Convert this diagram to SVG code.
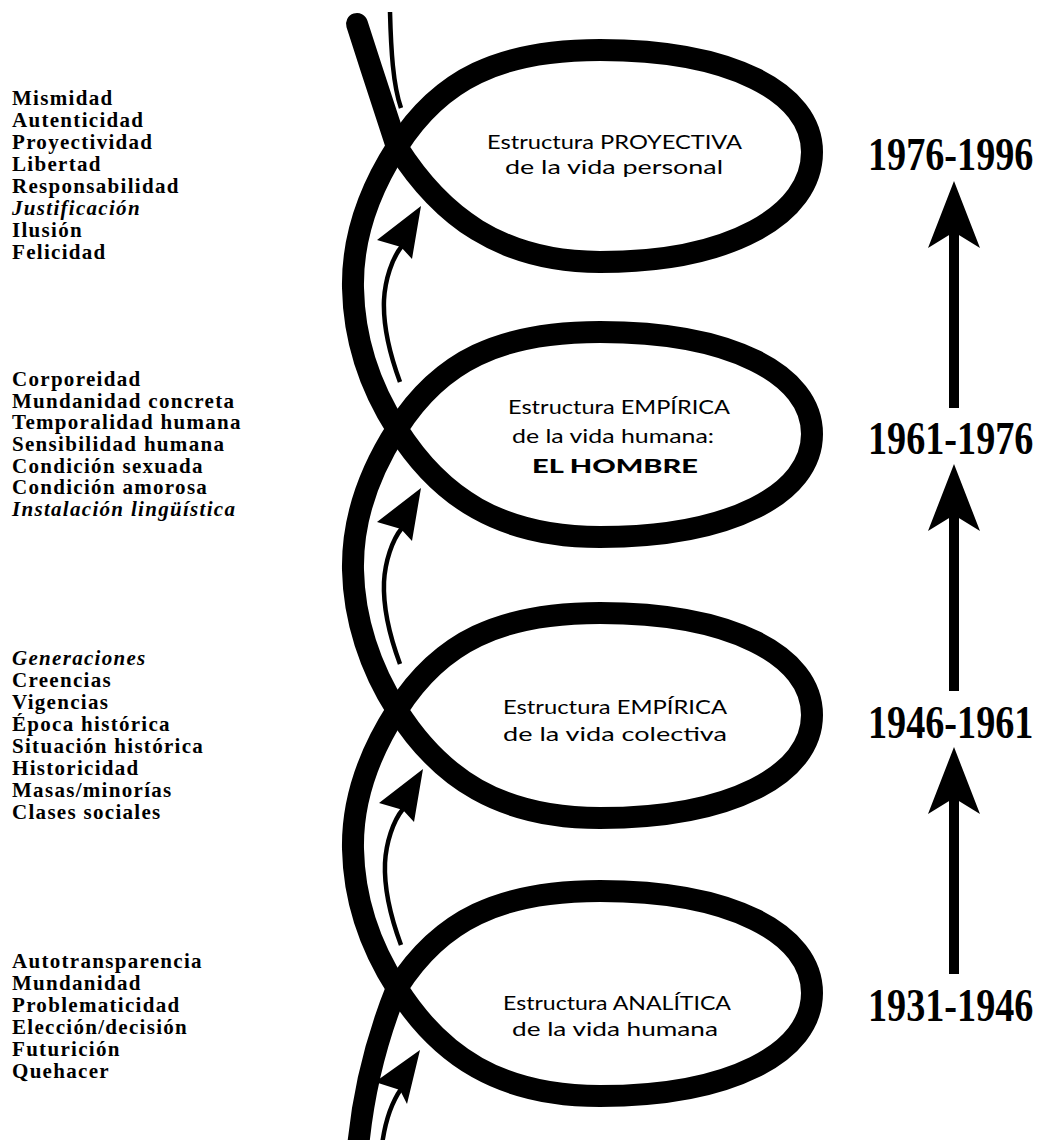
<svg xmlns="http://www.w3.org/2000/svg" width="1041" height="1140" viewBox="0 0 1041 1140">
<style>
.thick{fill:none;stroke:#000;stroke-width:22}
.thin{fill:none;stroke:#000;stroke-width:4.5}
.head{fill:#000}
.lst{font-family:"Liberation Serif",serif;font-weight:bold;font-size:21px;letter-spacing:1.3px;fill:#000}
.it{font-style:italic}
.lbl{font-family:"Lato","Noto Sans",sans-serif;font-size:20px;fill:#000}
.big{font-family:"Lato","Noto Sans",sans-serif;font-weight:900;font-size:19px;fill:#000}
.yr{font-family:"Liberation Serif",serif;font-weight:bold;font-size:46px;fill:#000}
</style>
<rect width="1041" height="1140" fill="#fff"/>

<g id="connectors">
  <path class="thick" stroke-linecap="round" d="M357,24 C370,65 384,107 397,147"/>
  <path class="thick" d="M397,147 C370,189 352,238 353,288 C354,338 370,387 397,429"/>
  <path class="thick" d="M397,429 C370,471 352,520 353,570 C354,619 370,668 397,710"/>
  <path class="thick" d="M397,710 C370,752 352,800 353,849 C354,898 370,946 397,988"/>
  <path class="thick" d="M397,988 C380,1030 362,1090 357,1160"/>
  <path class="thin" d="M390,12 C391,50 393,85 401,108"/>
  <path class="thin" d="M400,382 C390,355 383,325 384,300 C385,280 392,258 402,246"/>
  <polygon class="head" points="421,206 377,240 401,247 412,259"/>
  <path class="thin" d="M400,664 C390,637 383,607 384,582 C385,562 392,540 402,528"/>
  <polygon class="head" points="421,488 377,522 401,529 412,541"/>
  <path class="thin" d="M401,945 C391,918 384,888 385,863 C386,843 393,821 403,809"/>
  <polygon class="head" points="423,769 379,803 403,810 414,822"/>
  <path class="thin" d="M401,1089 C392,1102 385,1122 382,1145"/>
  <polygon class="head" points="420,1050 375,1082 400,1090 407,1104"/>
  <g id="timeline">
    <rect x="949" y="228" width="10" height="180"/>
    <polygon class="head" points="954,181 928,248 954,232 980,248"/>
    <rect x="949" y="511" width="10" height="180"/>
    <polygon class="head" points="954,464 928,531 954,515 980,531"/>
    <rect x="949" y="794" width="10" height="180"/>
    <polygon class="head" points="954,747 928,814 954,798 980,814"/>
  </g>
</g>

<g id="loop-proyectiva">
  <path class="thick" d="M397,147 C440,215 500,262 600,262 C730,262 812,215 812,152 C812,92 730,50 600,50 C500,50 440,79 397,147"/>
  <text class="lbl" x="487" y="149" textLength="255" lengthAdjust="spacingAndGlyphs">Estructura PROYECTIVA</text>
  <text class="lbl" x="505" y="174" textLength="218" lengthAdjust="spacingAndGlyphs">de la vida personal</text>
</g>
<g id="loop-empirica-humana">
  <path class="thick" d="M397,429 C440,497 500,537 600,537 C730,537 812,494 812,434 C812,374 730,332 600,332 C500,332 440,361 397,429"/>
  <text class="lbl" x="508" y="414" textLength="222" lengthAdjust="spacingAndGlyphs">Estructura EMPÍRICA</text>
  <text class="lbl" x="512" y="443" textLength="202" lengthAdjust="spacingAndGlyphs">de la vida humana:</text>
  <text class="big" x="532" y="473" textLength="166" lengthAdjust="spacingAndGlyphs">EL HOMBRE</text>
</g>
<g id="loop-empirica-colectiva">
  <path class="thick" d="M397,710 C440,778 500,818 600,818 C730,818 812,775 812,715 C812,655 730,613 600,613 C500,613 440,642 397,710"/>
  <text class="lbl" x="503" y="714" textLength="224" lengthAdjust="spacingAndGlyphs">Estructura EMPÍRICA</text>
  <text class="lbl" x="503" y="741" textLength="224" lengthAdjust="spacingAndGlyphs">de la vida colectiva</text>
</g>
<g id="loop-analitica">
  <path class="thick" d="M397,988 C440,1056 500,1096 600,1096 C730,1096 812,1053 812,993 C812,933 730,891 600,891 C500,891 440,920 397,988"/>
  <text class="lbl" x="503" y="1010" textLength="228" lengthAdjust="spacingAndGlyphs">Estructura ANALÍTICA</text>
  <text class="lbl" x="512" y="1036" textLength="206" lengthAdjust="spacingAndGlyphs">de la vida humana</text>
</g>

<g id="list-proyectiva" class="lst">
  <text x="12" y="105">Mismidad</text>
  <text x="12" y="127">Autenticidad</text>
  <text x="12" y="149">Proyectividad</text>
  <text x="12" y="171">Libertad</text>
  <text x="12" y="193">Responsabilidad</text>
  <text x="12" y="215" class="it">Justificación</text>
  <text x="12" y="237">Ilusión</text>
  <text x="12" y="259">Felicidad</text>
</g>
<g id="list-hombre" class="lst">
  <text x="12" y="386">Corporeidad</text>
  <text x="12" y="407.7">Mundanidad concreta</text>
  <text x="12" y="429.4">Temporalidad humana</text>
  <text x="12" y="451">Sensibilidad humana</text>
  <text x="12" y="472.7">Condición sexuada</text>
  <text x="12" y="494.4">Condición amorosa</text>
  <text x="12" y="516" class="it">Instalación lingüística</text>
</g>
<g id="list-colectiva" class="lst">
  <text x="12" y="665" class="it">Generaciones</text>
  <text x="12" y="687">Creencias</text>
  <text x="12" y="709">Vigencias</text>
  <text x="12" y="731">Época histórica</text>
  <text x="12" y="753">Situación histórica</text>
  <text x="12" y="775">Historicidad</text>
  <text x="12" y="797">Masas/minorías</text>
  <text x="12" y="819">Clases sociales</text>
</g>
<g id="list-analitica" class="lst">
  <text x="12" y="968">Autotransparencia</text>
  <text x="12" y="990">Mundanidad</text>
  <text x="12" y="1012">Problematicidad</text>
  <text x="12" y="1034">Elección/decisión</text>
  <text x="12" y="1056">Futurición</text>
  <text x="12" y="1078">Quehacer</text>
</g>

<g id="years" class="yr">
  <text transform="translate(868,170) scale(0.83,1)">1976-1996</text>
  <text transform="translate(868,454) scale(0.83,1)">1961-1976</text>
  <text transform="translate(868,738) scale(0.83,1)">1946-1961</text>
  <text transform="translate(868,1021) scale(0.83,1)">1931-1946</text>
</g>
</svg>
